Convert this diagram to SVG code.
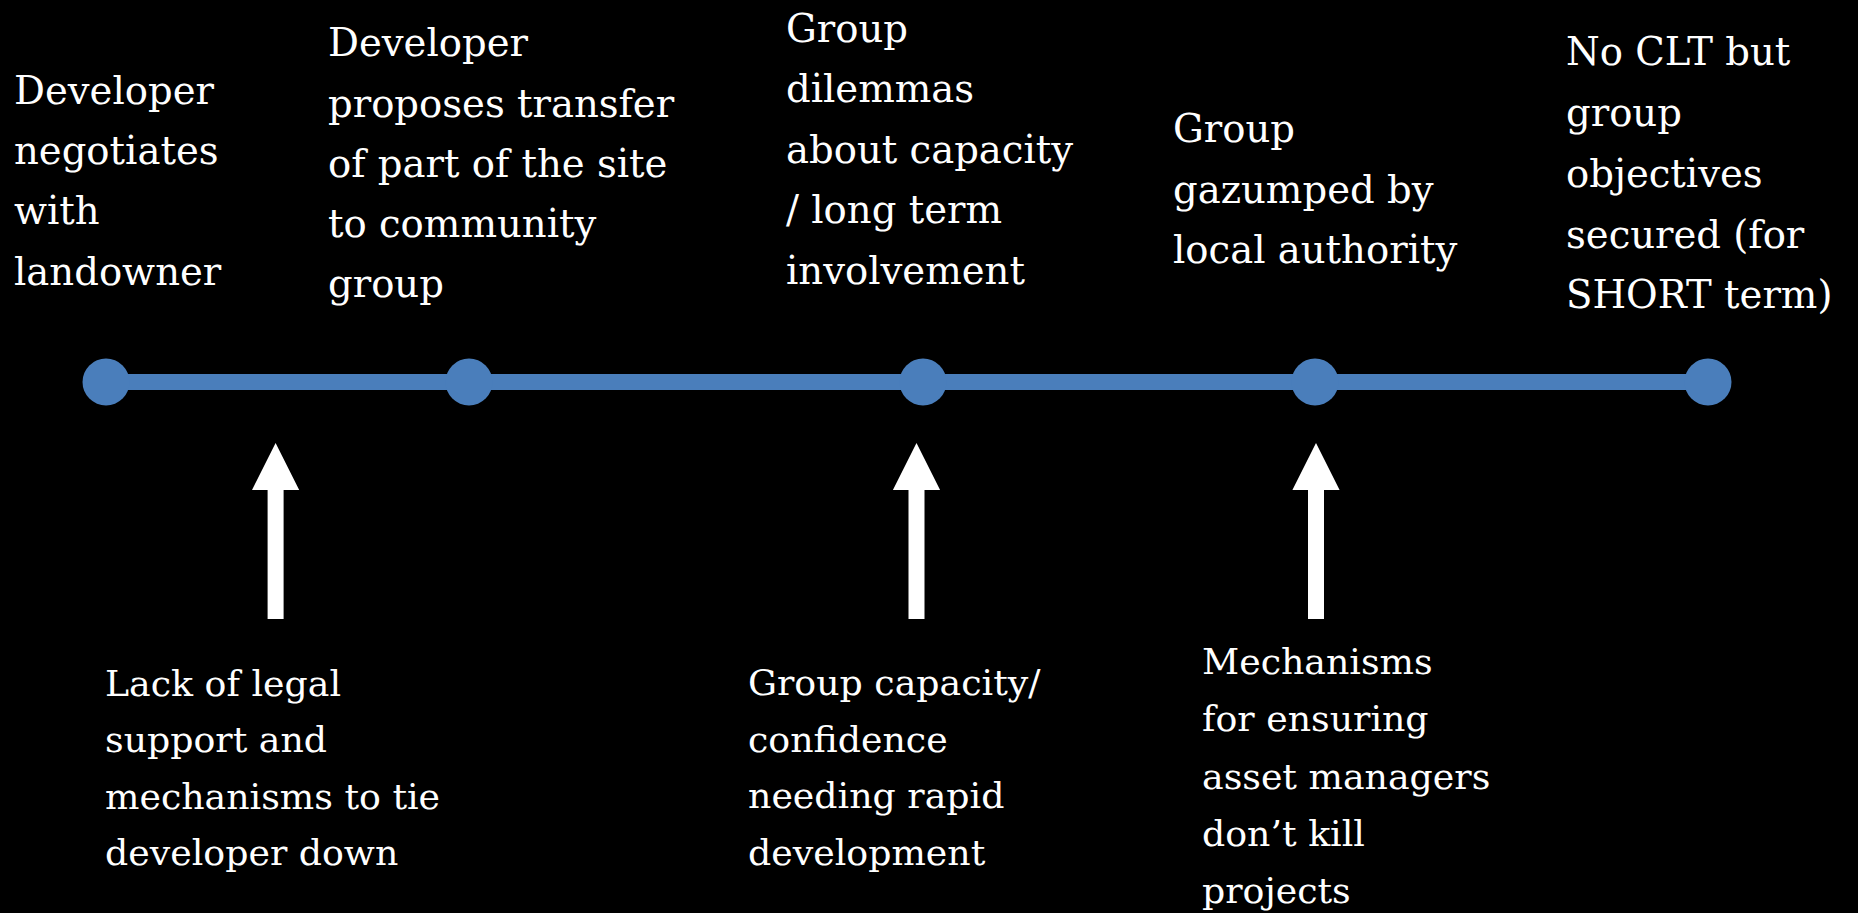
<svg xmlns="http://www.w3.org/2000/svg" width="1858" height="913" viewBox="0 0 1858 913">
<style>
.bg{fill:#000}
.dot{fill:#4A7EBB}
.tl{stroke:#4A7EBB;stroke-width:16;fill:none}
.arr{fill:#fff}
text{font-family:'DejaVu Serif','Liberation Serif',serif;fill:#fff}
.top{font-size:38.6px}
.bot{font-size:36.3px}
</style>
<rect class="bg" x="0" y="0" width="1858" height="913"/>
<g id="connectors">
<line class="tl" x1="106" y1="382" x2="1708" y2="382"/>
<path class="arr" d="M275.6,443 L299.2,490 L283.6,490 L283.6,619 L267.6,619 L267.6,490 L252,490 Z"/>
<path class="arr" d="M916.5,443 L940.1,490 L924.5,490 L924.5,619 L908.5,619 L908.5,490 L892.9,490 Z"/>
<path class="arr" d="M1316,443 L1339.6,490 L1324,490 L1324,619 L1308,619 L1308,490 L1292.4,490 Z"/>
</g>
<g id="n1"><circle class="dot" cx="106" cy="382" r="23.5"/>
<text class="top"><tspan x="14" y="104">Developer</tspan><tspan x="14" y="164">negotiates</tspan><tspan x="14" y="224">with</tspan><tspan x="14" y="285">landowner</tspan></text></g>
<g id="n2"><circle class="dot" cx="469" cy="382" r="23.5"/>
<text class="top"><tspan x="328" y="56">Developer</tspan><tspan x="328" y="117">proposes transfer</tspan><tspan x="328" y="177">of part of the site</tspan><tspan x="328" y="237">to community</tspan><tspan x="328" y="297">group</tspan></text></g>
<g id="n3"><circle class="dot" cx="923" cy="382" r="23.5"/>
<text class="top"><tspan x="786" y="42">Group</tspan><tspan x="786" y="102">dilemmas</tspan><tspan x="786" y="163">about capacity</tspan><tspan x="786" y="223">/ long term</tspan><tspan x="786" y="284">involvement</tspan></text></g>
<g id="n4"><circle class="dot" cx="1315" cy="382" r="23.5"/>
<text class="top"><tspan x="1173" y="142">Group</tspan><tspan x="1173" y="203">gazumped by</tspan><tspan x="1173" y="263">local authority</tspan></text></g>
<g id="n5"><circle class="dot" cx="1708" cy="382" r="23.5"/>
<text class="top"><tspan x="1566" y="65">No CLT but</tspan><tspan x="1566" y="126">group</tspan><tspan x="1566" y="187">objectives</tspan><tspan x="1566" y="248">secured (for</tspan><tspan x="1566" y="308">SHORT term)</tspan></text></g>
<g id="b1"><text class="bot"><tspan x="105" y="696">Lack of legal</tspan><tspan x="105" y="752">support and</tspan><tspan x="105" y="809">mechanisms to tie</tspan><tspan x="105" y="865">developer down</tspan></text></g>
<g id="b2"><text class="bot"><tspan x="748" y="695">Group capacity/</tspan><tspan x="748" y="752">confidence</tspan><tspan x="748" y="808">needing rapid</tspan><tspan x="748" y="865">development</tspan></text></g>
<g id="b3"><text class="bot"><tspan x="1202" y="674">Mechanisms</tspan><tspan x="1202" y="731">for ensuring</tspan><tspan x="1202" y="789">asset managers</tspan><tspan x="1202" y="846">don’t kill</tspan><tspan x="1202" y="903">projects</tspan></text></g>
</svg>
